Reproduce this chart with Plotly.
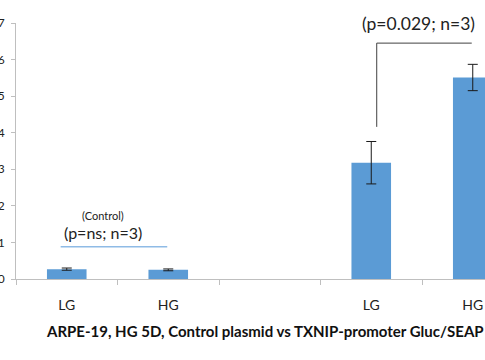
import plotly.graph_objects as go

categories = ["LG", "HG", " ", "LG ", "HG "]
tick_labels = ["LG", "HG", "", "LG", "HG"]
values = [0.27, 0.25, None, 3.18, 5.51]
errors = [0.03, 0.025, None, 0.58, 0.36]
y_ticks = [0, 1, 2, 3, 4, 5, 6, 7]
title_text = "ARPE-19, HG 5D, Control plasmid vs TXNIP-promoter Gluc/SEAP"
control_label = "(Control)"
control_stat = "(p=ns; n=3)"
txnip_stat = "(p=0.029; n=3)"

W, H = 485, 360
L, T, B = 16, 23, 81
plot_w = W - L
cat_px = 101.5
x_end = -0.5 + plot_w / cat_px

fig = go.Figure()
fig.add_trace(go.Bar(
    x=categories, y=values,
    marker=dict(color="#5b9bd5", line=dict(width=0)),
    width=0.39,
    error_y=dict(type="data", array=errors, visible=True,
                 color="#1a1a1a", thickness=1, width=5),
    cliponaxis=False,
))

fig.update_layout(
    width=W, height=H,
    margin=dict(l=L, r=0, t=T, b=B, autoexpand=False),
    plot_bgcolor="white", paper_bgcolor="white",
    showlegend=False,
    font=dict(family="Lato, Open Sans, sans-serif", color="#222"),
    xaxis=dict(
        type="category", categoryorder="array", categoryarray=categories,
        tickmode="array", tickvals=categories, ticktext=tick_labels,
        tickson="boundaries", ticks="outside", ticklen=5, tickcolor="#bfbfbf",
        showline=True, linecolor="#bfbfbf", linewidth=1,
        showgrid=False, zeroline=False,
        range=[-0.5, x_end], automargin=False,
        tickfont=dict(size=14, color="#222"), ticklabelstandoff=13,
    ),
    yaxis=dict(
        range=[0, 7], tickvals=y_ticks, ticks="outside", ticklen=4,
        tickcolor="#bfbfbf", showline=True, linecolor="#bfbfbf", linewidth=1,
        showgrid=False, zeroline=False, automargin=False,
        tickfont=dict(size=12, color="#222"), ticklabelstandoff=4,
    ),
)

line_dark = dict(color="#404040", width=1)
fig.add_shape(type="line", xref="x", yref="y", x0=3.054, x1=3.054, y0=4.16, y1=6.45, line=line_dark)
fig.add_shape(type="line", xref="x", yref="y", x0=3.054, x1=3.99, y0=6.45, y1=6.45, line=line_dark)
fig.add_shape(type="line", xref="x", yref="y", x0=-0.06, x1=0.99, y0=0.88, y1=0.88,
              line=dict(color="#8fbbe6", width=1.5))

fig.add_annotation(x=3.47, y=7.0, xref="x", yref="y", text=txnip_stat, showarrow=False,
                   font=dict(size=17.5, color="#222"), xanchor="center", yanchor="middle")
fig.add_annotation(x=0.36, y=1.26, xref="x", yref="y", text=control_stat, showarrow=False,
                   font=dict(size=16, color="#222"), xanchor="center", yanchor="middle")
fig.add_annotation(x=0.36, y=1.74, xref="x", yref="y", text=control_label, showarrow=False,
                   font=dict(size=11, color="#222"), xanchor="center", yanchor="middle")

fig.add_annotation(x=(265 - L) / plot_w, y=0, xref="paper", yref="paper", yshift=-52,
                   text="<b>" + title_text + "</b>", showarrow=False,
                   font=dict(size=15, color="#111"), xanchor="center", yanchor="middle")

fig.write_html("out.html", config={"displayModeBar": False},
               post_script="document.body.style.margin='0';document.body.style.overflow='hidden';")
